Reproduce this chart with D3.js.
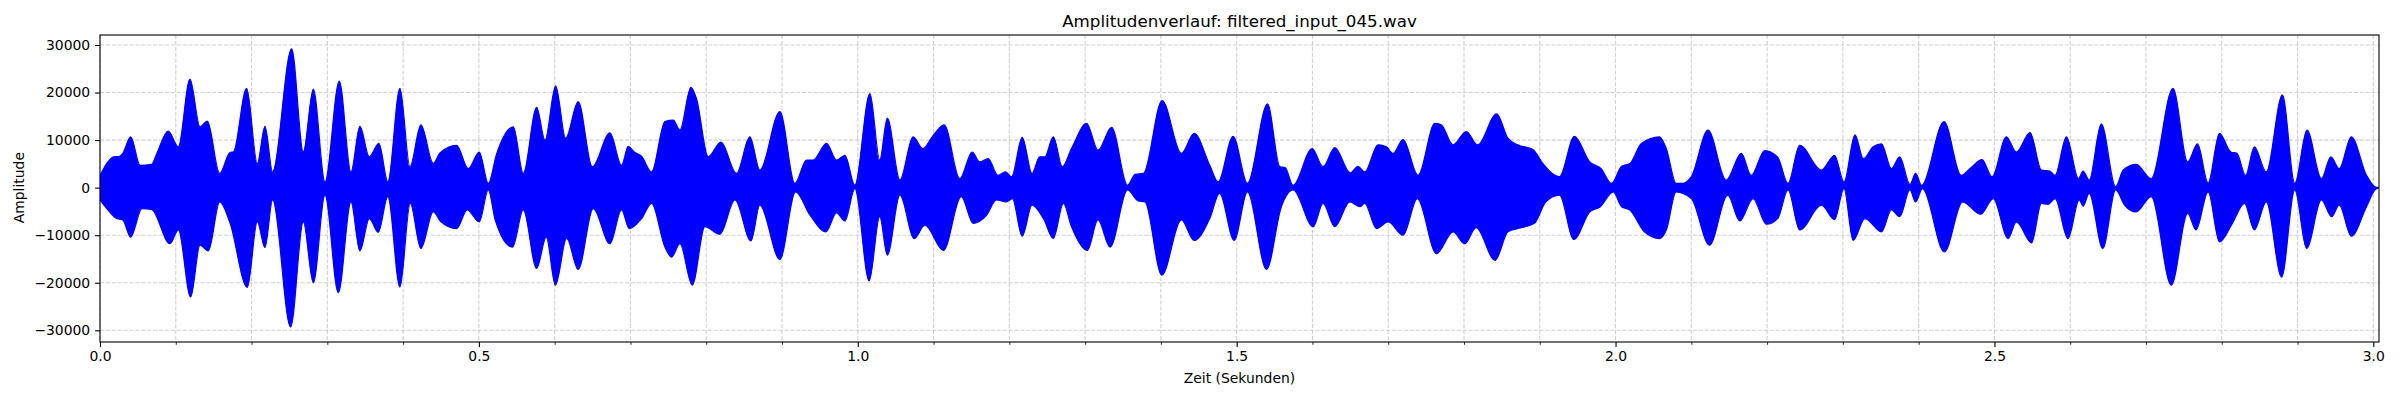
<!DOCTYPE html>
<html>
  <head>
    <meta charset="utf-8">
    <script type="text/javascript" src="https://cdn.jsdelivr.net/npm/d3@7"></script>
    <style>
      body { margin: 0; background: #fff; }
      text { font-family: "DejaVu Sans", sans-serif; fill: #000; }
    </style>
  </head>
  <body>
    <div id="viz"></div>
    <script type="text/javascript">
      const title = "Amplitudenverlauf: filtered_input_045.wav";
      const xLabel = "Zeit (Sekunden)";
      const yLabel = "Amplitude";

      const xTicks = [0.0, 0.5, 1.0, 1.5, 2.0, 2.5, 3.0];
      const yTicks = [-30000, -20000, -10000, 0, 10000, 20000, 30000];
      const duration = 3.0075;

      // upper envelope of the waveform (time in s, amplitude)
      const upperT = [0.000, 0.009, 0.018, 0.026, 0.030, 0.0405, 0.053, 0.068, 0.075, 0.090,
        0.1034, 0.1187, 0.132, 0.1416, 0.158, 0.1715, 0.176, 0.1935, 0.2076, 0.2177,
        0.2278, 0.2529, 0.2683, 0.2815, 0.2969, 0.3158, 0.3312, 0.343, 0.3554, 0.368,
        0.3799, 0.3958, 0.409, 0.4235, 0.4398, 0.4486, 0.4706, 0.486, 0.5005, 0.5124,
        0.5234, 0.5454, 0.5586, 0.5762, 0.5872, 0.6013, 0.6145, 0.6311, 0.6496, 0.6729,
        0.6883, 0.6971, 0.705, 0.7147, 0.7279, 0.7455, 0.7565, 0.7653, 0.7798, 0.787,
        0.8027, 0.8194, 0.840, 0.8576, 0.8708, 0.8972, 0.917, 0.9324, 0.941, 0.9588,
        0.972, 0.983, 0.9962, 1.016, 1.029, 1.039, 1.0556, 1.073, 1.086, 1.097,
        1.104, 1.114, 1.1347, 1.151, 1.161, 1.172, 1.185, 1.195, 1.203, 1.217,
        1.230, 1.240, 1.247, 1.258, 1.270, 1.282, 1.302, 1.317, 1.335, 1.356,
        1.366, 1.377, 1.4017, 1.427, 1.444, 1.4645, 1.4755, 1.4953, 1.5143, 1.5407,
        1.557, 1.564, 1.5745, 1.5996, 1.614, 1.6295, 1.650, 1.660, 1.669, 1.6866,
        1.6976, 1.7064, 1.7196, 1.7394, 1.7615, 1.770, 1.7856, 1.803, 1.818, 1.843,
        1.858, 1.871, 1.891, 1.904, 1.926, 1.9457, 1.966, 1.981, 1.9946, 2.008,
        2.019, 2.034, 2.058, 2.067, 2.080, 2.089, 2.100, 2.122, 2.146, 2.166,
        2.179, 2.1969, 2.214, 2.2276, 2.243, 2.2717, 2.289, 2.3015, 2.316, 2.327,
        2.340, 2.351, 2.364, 2.375, 2.3885, 2.396, 2.404, 2.4335, 2.456, 2.469,
        2.4836, 2.497, 2.5157, 2.529, 2.547, 2.562, 2.573, 2.580, 2.595, 2.611,
        2.617, 2.625, 2.641, 2.660, 2.670, 2.687, 2.707, 2.7356, 2.755, 2.768,
        2.782, 2.797, 2.812, 2.820, 2.8315, 2.843, 2.8588, 2.880, 2.8963, 2.9125,
        2.9315, 2.944, 2.955, 2.971, 2.991, 3.002, 3.007];
      const upperA = [2500, 5100, 6500, 6600, 7200, 10700, 4700, 4900, 7200, 11900,
        8600, 22800, 12800, 14000, 3000, 7400, 7500, 20900, 5100, 12900,
        3300, 29200, 7500, 20700, 1200, 22400, 3300, 12900, 6500, 9300,
        1200, 20900, 4400, 13200, 5100, 7300, 8900, 4000, 7500, 900,
        7100, 12800, 3000, 16900, 10000, 21400, 10400, 18100, 4400, 11500,
        4700, 8700, 7500, 6600, 3300, 13900, 14200, 12100, 21100, 18800,
        6500, 9600, 3000, 10700, 3700, 16000, 900, 5800, 5800, 9300,
        5800, 6800, 500, 19800, 5800, 14600, 1600, 10700, 8200, 10400,
        11900, 13200, 1900, 7500, 5400, 6100, 2600, 3300, 2300, 10600,
        3000, 6500, 6500, 10700, 4400, 8200, 13500, 7900, 12700, 500,
        2800, 3000, 18300, 7200, 11400, 4700, 1200, 10800, 900, 17600,
        4400, 4200, 500, 8200, 4400, 8400, 3100, 4500, 3300, 9000,
        8600, 7200, 10100, 2600, 13500, 13200, 9000, 11800, 9000, 15500,
        10400, 9000, 8000, 5100, 2300, 10800, 5400, 4000, 900, 4500,
        5100, 9300, 10700, 8200, 900, 900, 2300, 12100, 1600, 7200,
        2600, 7800, 6400, 900, 8900, 3700, 6800, 1200, 11100, 6100,
        8600, 9200, 4000, 6500, 700, 3000, 500, 13900, 2600, 4200,
        5900, 2300, 10700, 7500, 11600, 3700, 3500, 2600, 10700, 1900,
        3500, 1600, 13400, 200, 3700, 4900, 1900, 20900, 5400, 9200,
        1000, 11400, 7500, 7200, 2600, 8600, 3300, 19500, 900, 12100,
        1900, 6500, 4000, 10700, 2600, 200, 0];

      // lower envelope of the waveform
      const lowerT = [0.000, 0.009, 0.022, 0.030, 0.0405, 0.0554, 0.068, 0.0924, 0.1034, 0.1196,
        0.132, 0.143, 0.158, 0.1715, 0.1944, 0.2076, 0.2177, 0.2278, 0.2516, 0.2683,
        0.2815, 0.2969, 0.3145, 0.3312, 0.343, 0.3554, 0.3672, 0.3799, 0.3958, 0.4094,
        0.4235, 0.4398, 0.450, 0.4706, 0.4846, 0.5005, 0.5124, 0.5216, 0.5444, 0.5586,
        0.5762, 0.5889, 0.601, 0.6158, 0.6311, 0.6509, 0.6729, 0.6883, 0.6985, 0.7147,
        0.7279, 0.7455, 0.7543, 0.7653, 0.7816, 0.7983, 0.818, 0.838, 0.859, 0.8708,
        0.8972, 0.9179, 0.937, 0.958, 0.972, 0.983, 0.9962, 1.015, 1.029, 1.039,
        1.0556, 1.0745, 1.0885, 1.113, 1.1365, 1.1525, 1.170, 1.183, 1.196, 1.204,
        1.217, 1.230, 1.245, 1.258, 1.2714, 1.282, 1.303, 1.317, 1.333, 1.356,
        1.370, 1.379, 1.4012, 1.427, 1.444, 1.4645, 1.4775, 1.4967, 1.5143, 1.5394,
        1.559, 1.5745, 1.601, 1.614, 1.6295, 1.6493, 1.6625, 1.669, 1.6845, 1.700,
        1.7196, 1.7385, 1.7637, 1.7856, 1.801, 1.816, 1.841, 1.858, 1.871, 1.893,
        1.908, 1.926, 1.945, 1.966, 1.980, 1.997, 2.008, 2.019, 2.038, 2.058,
        2.067, 2.080, 2.100, 2.124, 2.148, 2.164, 2.1815, 2.199, 2.214, 2.2276,
        2.243, 2.2717, 2.289, 2.3015, 2.3135, 2.329, 2.351, 2.364, 2.375, 2.3885,
        2.396, 2.405, 2.434, 2.458, 2.4818, 2.4985, 2.518, 2.529, 2.549, 2.562,
        2.571, 2.580, 2.597, 2.612, 2.617, 2.625, 2.643, 2.660, 2.672, 2.687,
        2.707, 2.7334, 2.755, 2.766, 2.782, 2.797, 2.814, 2.830, 2.843, 2.8588,
        2.879, 2.8963, 2.912, 2.9315, 2.945, 2.955, 2.971, 2.991, 3.002, 3.007];
      const lowerA = [-2600, -4400, -6500, -6800, -10400, -4400, -4600, -11800, -8900, -23000,
        -12100, -13300, -3000, -7400, -21000, -7200, -12600, -2600, -29300, -7200,
        -20000, -1600, -22100, -3000, -13300, -6500, -9400, -1900, -20900, -3300,
        -12800, -5100, -7200, -8600, -4700, -7200, -500, -6800, -12500, -4700,
        -17000, -10400, -20500, -10700, -17200, -4400, -11800, -4700, -8600, -6500,
        -3300, -12500, -14600, -11800, -20500, -8200, -9800, -2600, -11200, -3700,
        -15100, -900, -5800, -9300, -5300, -7000, -200, -19600, -6100, -14200,
        -1600, -10700, -7900, -13200, -1900, -7500, -5800, -2600, -3000, -2300,
        -10200, -3700, -6500, -10700, -3300, -8200, -13200, -6800, -12500, -500,
        -2800, -3000, -18400, -6800, -11100, -6500, -1200, -11100, -900, -17200,
        -4000, -500, -8200, -3300, -8200, -3000, -4000, -3300, -8600, -7200,
        -10000, -2300, -13900, -9300, -11800, -8400, -15300, -9300, -8600, -7500,
        -3000, -1600, -10900, -5100, -4000, -900, -4000, -4700, -9300, -10700,
        -8900, -900, -2300, -12100, -1600, -7000, -2300, -7700, -6500, -500,
        -8900, -3700, -6700, -200, -11100, -6500, -9300, -4700, -6100, -500,
        -3000, -200, -13500, -3000, -5600, -2300, -10700, -7200, -11600, -3300,
        -3500, -2300, -10700, -2600, -3900, -1200, -12800, -500, -3700, -5100,
        -1900, -20500, -5400, -8900, -900, -11400, -7500, -3300, -8900, -3000,
        -18800, -500, -12800, -2600, -6100, -3700, -10200, -4000, -500, 0];

      const width = 2400;
      const height = 400;
      const margin = { left: 100, right: 21, top: 35, bottom: 58 };
      const plotW = width - margin.left - margin.right;
      const plotH = height - margin.top - margin.bottom;

      const svg = d3.select("#viz")
        .append("svg")
        .attr("width", width)
        .attr("height", height);

      const x = d3.scaleLinear().domain([0, duration]).range([0, plotW]);
      const y = d3.scaleLinear().domain([-32460, 32100]).range([plotH, 0]);

      const g = svg.append("g")
        .attr("transform", coordToTrans(margin.left, margin.top));

      // grid: vertical every 0.1 s (major + minor), horizontal at major y ticks
      const minorX = d3.range(0, 31).map(i => i / 10);
      g.append("g")
        .selectAll("line")
        .data(minorX)
        .enter()
        .append("line")
        .attr("x1", d => x(d)).attr("x2", d => x(d))
        .attr("y1", 0).attr("y2", plotH)
        .style("stroke", "#b0b0b0")
        .style("stroke-opacity", 0.6)
        .style("stroke-width", 1.1)
        .style("stroke-dasharray", "4.1,1.8");

      g.append("g")
        .selectAll("line")
        .data(yTicks)
        .enter()
        .append("line")
        .attr("x1", 0).attr("x2", plotW)
        .attr("y1", d => y(d)).attr("y2", d => y(d))
        .style("stroke", "#b0b0b0")
        .style("stroke-opacity", 0.6)
        .style("stroke-width", 1.1)
        .style("stroke-dasharray", "4.1,1.8");

      // waveform drawn as upper and lower envelope areas
      svg.append("clipPath").attr("id", "clip")
        .append("rect").attr("width", plotW).attr("height", plotH);

      const upper = upperT.map((t, i) => [t, upperA[i]]);
      const lower = lowerT.map((t, i) => [t, lowerA[i]]);

      const area = d3.area()
        .x(d => x(d[0]))
        .y0(y(0))
        .y1(d => y(d[1]))
        .curve(d3.curveMonotoneX);

      const wave = g.append("g").attr("clip-path", "url(#clip)");
      [upper, lower].forEach(env => {
        wave.append("path")
          .datum(env)
          .attr("d", area)
          .style("fill", "#0000ff")
          .style("stroke", "#0000ff")
          .style("stroke-width", 1.2)
          .style("stroke-linejoin", "round");
      });

      // axes
      const xAxis = g.append("g")
        .attr("transform", coordToTrans(0, plotH))
        .call(d3.axisBottom(x).tickValues(xTicks).tickFormat(d3.format(".1f"))
          .tickSize(4.9).tickPadding(4.2));

      g.append("g")
        .attr("transform", coordToTrans(0, plotH))
        .call(d3.axisBottom(x).tickValues(minorX.filter(v => Math.round(v * 10) % 5 !== 0))
          .tickFormat("").tickSize(2.8))
        .call(a => a.select(".domain").remove())
        .selectAll("line").style("stroke-width", 0.85);

      const yAxis = g.append("g")
        .call(d3.axisLeft(y).tickValues(yTicks).tickFormat(d3.format("d"))
          .tickSize(4.9).tickPadding(4.9));

      [xAxis, yAxis].forEach(a => {
        a.selectAll("text").style("font-size", "13.9px").style("font-family", "DejaVu Sans");
        a.selectAll("line").style("stroke-width", 1.1);
        a.select(".domain").remove();
      });

      // frame
      g.append("rect")
        .attr("width", plotW).attr("height", plotH)
        .style("fill", "none")
        .style("stroke", "black")
        .style("stroke-width", 1.1);

      svg.append("text")
        .attr("x", margin.left + plotW / 2).attr("y", 27)
        .attr("text-anchor", "middle")
        .style("font-size", "16.7px")
        .text(title);

      svg.append("text")
        .attr("x", margin.left + plotW / 2).attr("y", 382.5)
        .attr("text-anchor", "middle")
        .style("font-size", "13.9px")
        .text(xLabel);

      svg.append("text")
        .attr("transform", coordToTrans(24, margin.top + y(0)) + " rotate(-90)")
        .attr("text-anchor", "middle")
        .style("font-size", "13.9px")
        .text(yLabel);

      function coordToTrans(x, y){
        return "translate(" + x + ", " + y + ")";
      }
    </script>
  </body>
</html>
